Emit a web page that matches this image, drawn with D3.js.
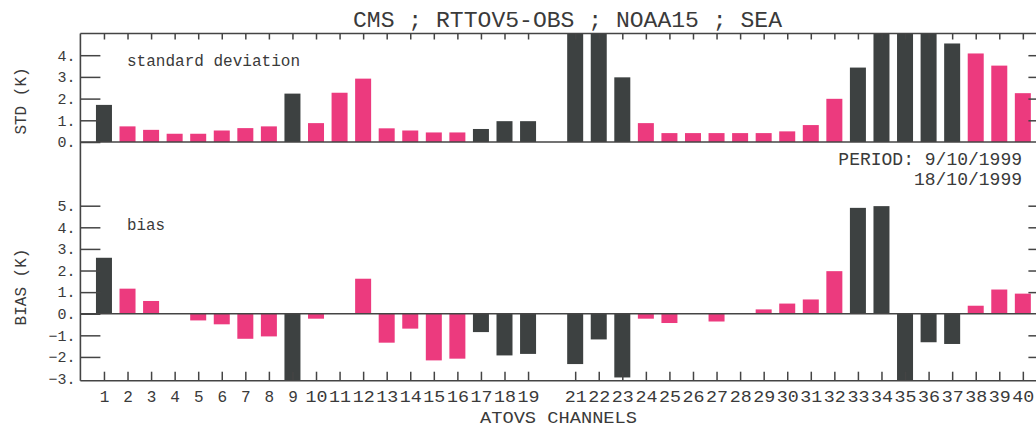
<html>
<head>
<style>
  body { margin: 0; background: #fff; }
  svg text { font-family: "Liberation Mono", "DejaVu Sans Mono", monospace; fill: #3a3a3a; }
</style>
</head>
<body>
<svg></svg>
<script src="https://d3js.org/d3.v7.min.js"></script>
<script>
let width = 1036, height = 429;

// channel numbers (20 has no data)
const channels = d3.range(1, 41);
const tickChannels = channels.filter((c) => c !== 20);
const darkChannels = [1, 9, 17, 18, 19, 21, 22, 23, 33, 34, 35, 36, 37];

// standard deviation (K); values above 5 run off the top of the panel
const stdValues = [1.71, 0.72, 0.56, 0.38, 0.38, 0.53, 0.64, 0.72, 2.23, 0.87,
  2.27, 2.92, 0.63, 0.53, 0.44, 0.44, 0.6, 0.96, 0.96, null,
  5.6, 5.6, 2.98, 0.87, 0.41, 0.41, 0.41, 0.41, 0.41, 0.49,
  0.78, 1.99, 3.43, 5.6, 5.6, 5.6, 4.54, 4.08, 3.52, 2.25];

// bias (K); values below -3.1 run off the bottom
const biasValues = [2.59, 1.16, 0.59, 0, -0.31, -0.49, -1.16, -1.05, -3.5, -0.23,
  0, 1.62, -1.34, -0.69, -2.16, -2.08, -0.85, -1.93, -1.86, null,
  -2.33, -1.19, -2.95, -0.23, -0.43, 0, -0.36, 0, 0.2, 0.47,
  0.66, 1.97, 4.9, 4.98, -3.5, -1.32, -1.4, 0.37, 1.12, 0.93];

const stdTicks = [0, 1, 2, 3, 4];
const biasTicks = [-3, -2, -1, 0, 1, 2, 3, 4, 5];

const pink = "#ec3a7e", dark = "#3d4141", lineCol = "#444";

let svg = d3.select("svg").attr("width", width).attr("height", height);

let x = d3.scaleLinear().domain([0, 41]).range([80.4, 1046.4]);
let yStd = d3.scaleLinear().domain([0, 5]).range([142, 33.5]).clamp(true);
let yBias = d3.scaleLinear().domain([-3.1, 5]).range([380.7, 205.7]).clamp(true);

const fmt = (d) => (d < 0 ? "\u2212" : "") + Math.abs(d) + ".";
const barW = 16;

function bars(values, y, cls) {
  svg.append("g").attr("class", cls)
    .selectAll("rect")
    .data(channels.map((c, i) => ({ c: c, v: values[i] })).filter((d) => d.v !== null && d.v !== 0))
    .enter()
    .append("rect")
    .attr("x", (d) => x(d.c) - barW / 2)
    .attr("width", barW)
    .attr("y", (d) => Math.min(y(d.v), y(0)))
    .attr("height", (d) => Math.abs(y(d.v) - y(0)))
    .attr("fill", (d) => (darkChannels.includes(d.c) ? dark : pink));
}

bars(stdValues, yStd, "std");
bars(biasValues, yBias, "bias");

function styleAxis(g, size) {
  g.select(".domain").remove();
  g.selectAll("line").attr("stroke", lineCol).attr("stroke-width", 1.5);
  g.selectAll("text").attr("font-size", size).attr("font-family", null).attr("fill", null);
}

// left y axes
svg.append("g").attr("transform", `translate(${x(0)},0)`)
  .call(d3.axisLeft(yStd).tickValues(stdTicks).tickSizeInner(-20).tickSizeOuter(0).tickPadding(5).tickFormat(fmt))
  .call((g) => styleAxis(g, 15));
svg.append("g").attr("transform", `translate(${x(0)},0)`)
  .call(d3.axisLeft(yBias).tickValues(biasTicks).tickSizeInner(-20).tickSizeOuter(0).tickPadding(5).tickFormat(fmt))
  .call((g) => styleAxis(g, 15))
  .call((g) => g.selectAll(".tick").filter((d) => d === -3).select("line").remove());

// right ticks
svg.append("g").attr("transform", `translate(${x(41)},0)`)
  .call(d3.axisRight(yStd).tickValues([1, 2, 3, 4]).tickSizeInner(-18).tickSizeOuter(0).tickFormat(""))
  .call((g) => styleAxis(g, 15));
svg.append("g").attr("transform", `translate(${x(41)},0)`)
  .call(d3.axisRight(yBias).tickValues([-2, -1, 1, 2, 3, 4, 5]).tickSizeInner(-18).tickSizeOuter(0).tickFormat(""))
  .call((g) => styleAxis(g, 15));

// top and bottom channel ticks
svg.append("g").attr("transform", `translate(0,${yStd(5)})`)
  .call(d3.axisTop(x).tickValues(tickChannels).tickSizeInner(-6).tickSizeOuter(0).tickFormat(""))
  .call((g) => styleAxis(g, 15));
let xb = svg.append("g").attr("transform", `translate(0,${yBias(-3.1)})`)
  .call(d3.axisBottom(x).tickValues(tickChannels).tickSizeInner(-9).tickSizeOuter(0).tickPadding(10))
  .call((g) => styleAxis(g, 16));
xb.selectAll("text").filter((d) => d >= 10)
  .attr("textLength", 22).attr("lengthAdjust", "spacingAndGlyphs");

// frame lines
const frame = svg.append("g").attr("stroke", lineCol).attr("stroke-width", 1.6);
frame.append("line").attr("x1", x(0)).attr("x2", x(0)).attr("y1", yStd(5)).attr("y2", yBias(-3.1));
frame.append("line").attr("x1", x(0)).attr("x2", width).attr("y1", yStd(5)).attr("y2", yStd(5));
frame.append("line").attr("x1", x(0)).attr("x2", width).attr("y1", yStd(0)).attr("y2", yStd(0));
frame.append("line").attr("x1", x(0)).attr("x2", width).attr("y1", yBias(0)).attr("y2", yBias(0));
frame.append("line").attr("x1", x(0)).attr("x2", width).attr("y1", yBias(-3.1)).attr("y2", yBias(-3.1));

// texts
svg.append("text").attr("x", 353).attr("y", 27).attr("font-size", 22)
  .attr("textLength", 429).attr("lengthAdjust", "spacingAndGlyphs")
  .text("CMS ; RTTOV5-OBS ; NOAA15 ; SEA");
svg.append("text").attr("x", 127).attr("y", 66).attr("font-size", 16)
  .attr("textLength", 173).attr("lengthAdjust", "spacingAndGlyphs").text("standard deviation");
svg.append("text").attr("x", 127).attr("y", 230).attr("font-size", 16)
  .attr("textLength", 38).attr("lengthAdjust", "spacingAndGlyphs").text("bias");
svg.append("text").attr("x", 1022).attr("y", 165).attr("font-size", 18).attr("text-anchor", "end")
  .text("PERIOD: 9/10/1999");
svg.append("text").attr("x", 1022).attr("y", 185).attr("font-size", 18).attr("text-anchor", "end")
  .text("18/10/1999");
svg.append("text").attr("x", 480).attr("y", 423).attr("font-size", 16)
  .attr("textLength", 157).attr("lengthAdjust", "spacingAndGlyphs").text("ATOVS CHANNELS");
svg.append("text").attr("transform", "translate(26,101) rotate(-90)").attr("text-anchor", "middle")
  .attr("font-size", 16).text("STD (K)");
svg.append("text").attr("transform", "translate(26,287) rotate(-90)").attr("text-anchor", "middle")
  .attr("font-size", 16).text("BIAS (K)");
</script>
</body>
</html>
